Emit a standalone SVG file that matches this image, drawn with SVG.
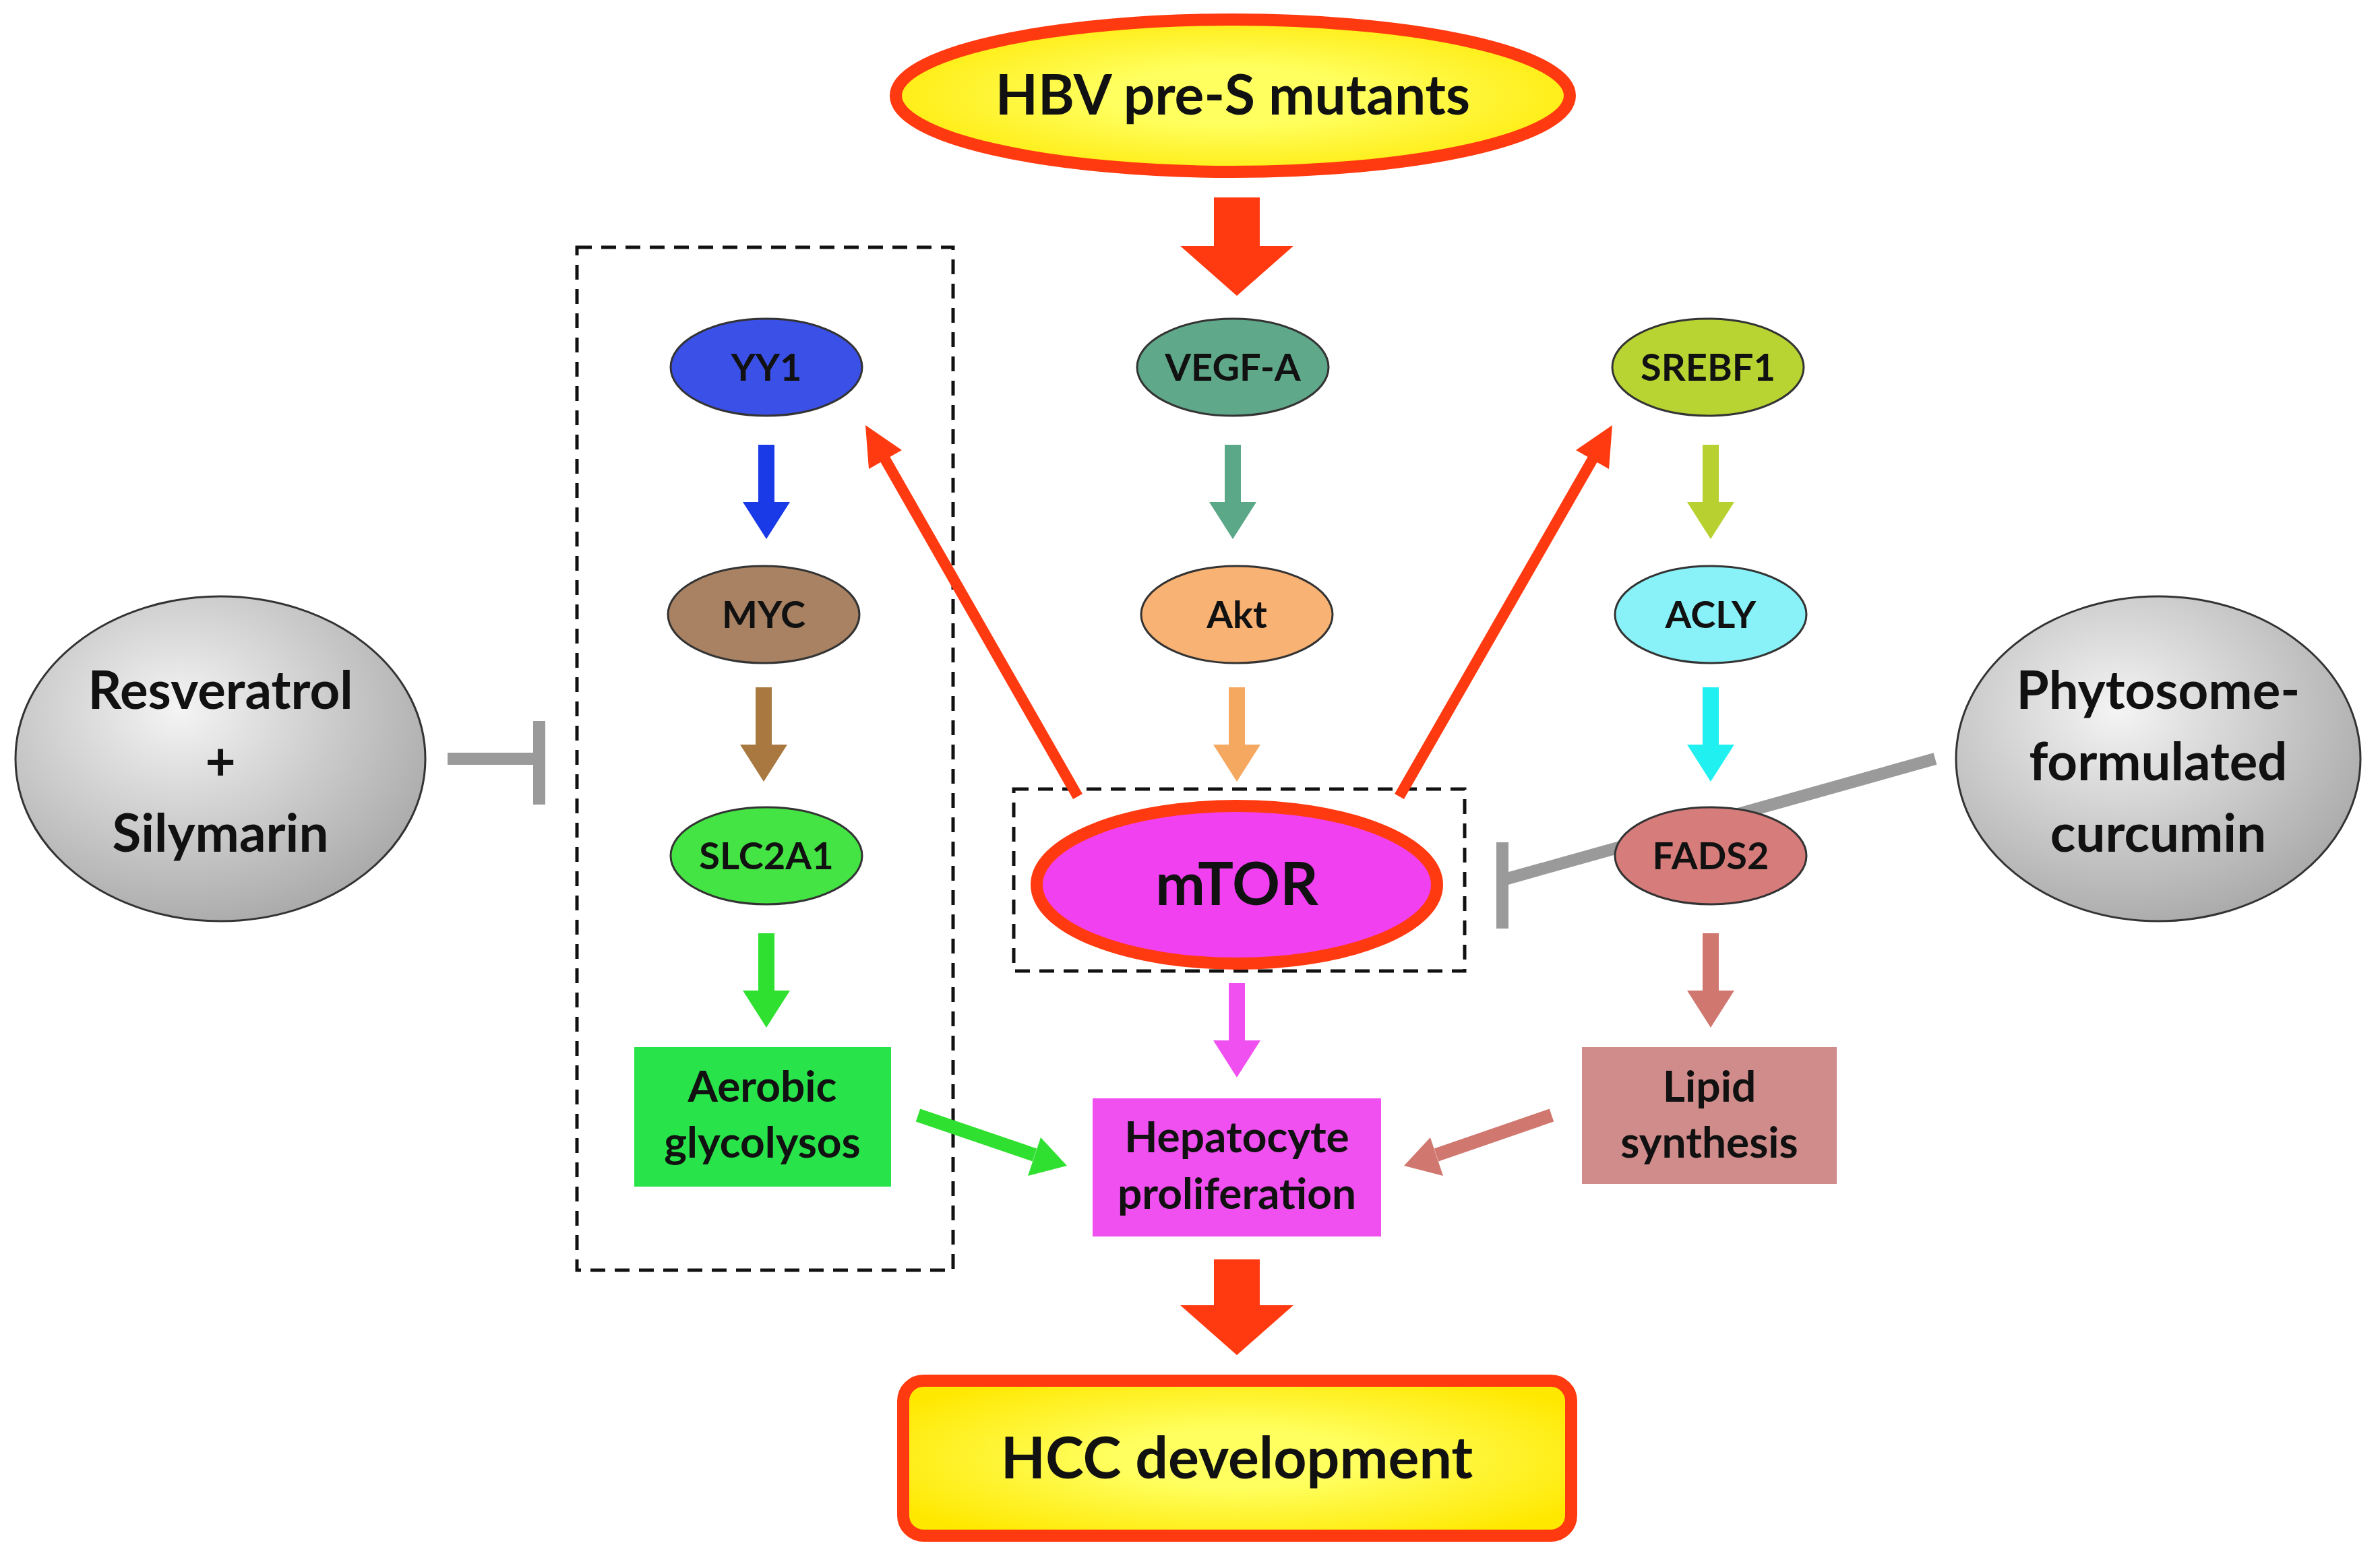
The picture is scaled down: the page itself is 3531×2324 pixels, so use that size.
<svg xmlns="http://www.w3.org/2000/svg" width="3531" height="2324" viewBox="0 0 3531 2324">
<style>
text{font-family:Lato,"Open Sans","Liberation Sans",sans-serif;font-weight:bold;text-anchor:middle;fill:#111}
.n{stroke:#333;stroke-width:3}
.s{font-size:56px}
.dash{fill:none;stroke:#111;stroke-width:5;stroke-dasharray:22 14}
</style>
<defs>
<radialGradient id="gy" cx="0.5" cy="0.5" r="0.6"><stop offset="0.3" stop-color="#ffff60"/><stop offset="1" stop-color="#ffe800"/></radialGradient>
<radialGradient id="gg" cx="0.4" cy="0.35" r="0.7"><stop offset="0" stop-color="#f4f4f4"/><stop offset="1" stop-color="#a8a8a8"/></radialGradient>
</defs>
<rect width="3531" height="2324" fill="#fff"/>
<g id="boxes">
<rect class="dash" x="856" y="367" width="558" height="1518"/>
<rect class="dash" x="1504" y="1171" width="669" height="270"/>
</g>
<g id="connectors">
<polygon fill="#ff3a10" points="1801,293 1869,293 1869,365 1919,365 1835,439 1751,365 1801,365"/>
<polygon fill="#ff3a10" points="1801,1869 1869,1869 1869,1937 1919,1937 1835,2011 1751,1937 1801,1937"/>
<line x1="1599" y1="1182" x2="1310" y2="676" stroke="#ff3a10" stroke-width="16"/>
<polygon fill="#ff3a10" points="1284,631 1338,668 1289,696"/>
<line x1="2076" y1="1182" x2="2366" y2="676" stroke="#ff3a10" stroke-width="16"/>
<polygon fill="#ff3a10" points="2392,631 2387,696 2338,668"/>
<polygon fill="#1a3ae8" points="1125,660 1149,660 1149,745 1172,745 1137,800 1102,745 1125,745"/>
<polygon fill="#a87840" points="1121,1020 1145,1020 1145,1105 1168,1105 1133,1160 1098,1105 1121,1105"/>
<polygon fill="#30e030" points="1125,1385 1149,1385 1149,1470 1172,1470 1137,1525 1102,1470 1125,1470"/>
<polygon fill="#5aa888" points="1817,660 1841,660 1841,745 1864,745 1829,800 1794,745 1817,745"/>
<polygon fill="#f5a860" points="1823,1020 1847,1020 1847,1105 1870,1105 1835,1160 1800,1105 1823,1105"/>
<polygon fill="#f050f0" points="1823,1459 1847,1459 1847,1544 1870,1544 1835,1599 1800,1544 1823,1544"/>
<polygon fill="#b8d030" points="2526,660 2550,660 2550,745 2573,745 2538,800 2503,745 2526,745"/>
<polygon fill="#20f0f0" points="2526,1020 2550,1020 2550,1105 2573,1105 2538,1160 2503,1105 2526,1105"/>
<polygon fill="#d07870" points="2526,1385 2550,1385 2550,1470 2573,1470 2538,1525 2503,1470 2526,1470"/>
<line x1="1362" y1="1655" x2="1535" y2="1714" stroke="#30e030" stroke-width="20"/>
<polygon fill="#30e030" points="1583,1730 1525,1745 1544,1688"/>
<line x1="2302" y1="1655" x2="2131" y2="1714" stroke="#d07870" stroke-width="20"/>
<polygon fill="#d07870" points="2083,1730 2122,1688 2141,1745"/>
<line x1="664" y1="1126" x2="800" y2="1126" stroke="#9a9a9a" stroke-width="18"/>
<line x1="800" y1="1070" x2="800" y2="1194" stroke="#9a9a9a" stroke-width="18"/>
<line x1="2871" y1="1126" x2="2229" y2="1306" stroke="#9a9a9a" stroke-width="18"/>
<line x1="2229" y1="1250" x2="2229" y2="1378" stroke="#9a9a9a" stroke-width="18"/>
</g>
<g id="hbv"><ellipse cx="1829" cy="142" rx="500" ry="113" fill="url(#gy)" stroke="#ff3a10" stroke-width="18"/><text x="1829" y="170" font-size="82">HBV pre-S mutants</text></g>
<g id="yy1"><ellipse class="n" cx="1137" cy="545" rx="142" ry="72" fill="#3a50e6"/><text class="s" x="1137" y="565">YY1</text></g>
<g id="vegfa"><ellipse class="n" cx="1829" cy="545" rx="142" ry="72" fill="#5fa88a"/><text class="s" x="1829" y="565">VEGF-A</text></g>
<g id="srebf1"><ellipse class="n" cx="2534" cy="545" rx="142" ry="72" fill="#b8d432"/><text class="s" x="2534" y="565">SREBF1</text></g>
<g id="myc"><ellipse class="n" cx="1133" cy="912" rx="142" ry="72" fill="#a88262"/><text class="s" x="1133" y="932">MYC</text></g>
<g id="akt"><ellipse class="n" cx="1835" cy="912" rx="142" ry="72" fill="#f8b274"/><text class="s" x="1835" y="932">Akt</text></g>
<g id="acly"><ellipse class="n" cx="2538" cy="912" rx="142" ry="72" fill="#88f2f8"/><text class="s" x="2538" y="932">ACLY</text></g>
<g id="slc2a1"><ellipse class="n" cx="1137" cy="1270" rx="142" ry="72" fill="#44e444"/><text class="s" x="1137" y="1290">SLC2A1</text></g>
<g id="fads2"><ellipse class="n" cx="2538" cy="1270" rx="142" ry="72" fill="#d67c7a"/><text class="s" x="2538" y="1290">FADS2</text></g>
<g id="mtor"><ellipse cx="1835" cy="1313" rx="297" ry="117" fill="#f040f0" stroke="#ff3a10" stroke-width="18"/><text x="1835" y="1343" font-size="88">mTOR</text></g>
<g id="aerobic"><rect x="941" y="1554" width="381" height="207" fill="#28e44a"/><text x="1131" y="1635" font-size="64">Aerobic</text><text x="1131" y="1718" font-size="64">glycolysos</text></g>
<g id="hep"><rect x="1621" y="1630" width="428" height="205" fill="#f050f0"/><text x="1835" y="1710" font-size="64">Hepatocyte</text><text x="1835" y="1794" font-size="64">proliferation</text></g>
<g id="lipid"><rect x="2347" y="1554" width="378" height="203" fill="#d08c8a"/><text x="2536" y="1635" font-size="64">Lipid</text><text x="2536" y="1718" font-size="64">synthesis</text></g>
<g id="hcc"><rect x="1340" y="2049" width="991" height="230" rx="30" fill="url(#gy)" stroke="#ff3a10" stroke-width="18"/><text x="1835" y="2194" font-size="86">HCC development</text></g>
<g id="resveratrol"><ellipse class="n" cx="327" cy="1126" rx="304" ry="241" fill="url(#gg)"/><text x="327" y="1052" font-size="78">Resveratrol</text><text x="327" y="1158" font-size="78">+</text><text x="327" y="1264" font-size="78">Silymarin</text></g>
<g id="curcumin"><ellipse class="n" cx="3202" cy="1126" rx="300" ry="241" fill="url(#gg)"/><text x="3202" y="1052" font-size="78">Phytosome-</text><text x="3202" y="1158" font-size="78">formulated</text><text x="3202" y="1264" font-size="78">curcumin</text></g>
</svg>
